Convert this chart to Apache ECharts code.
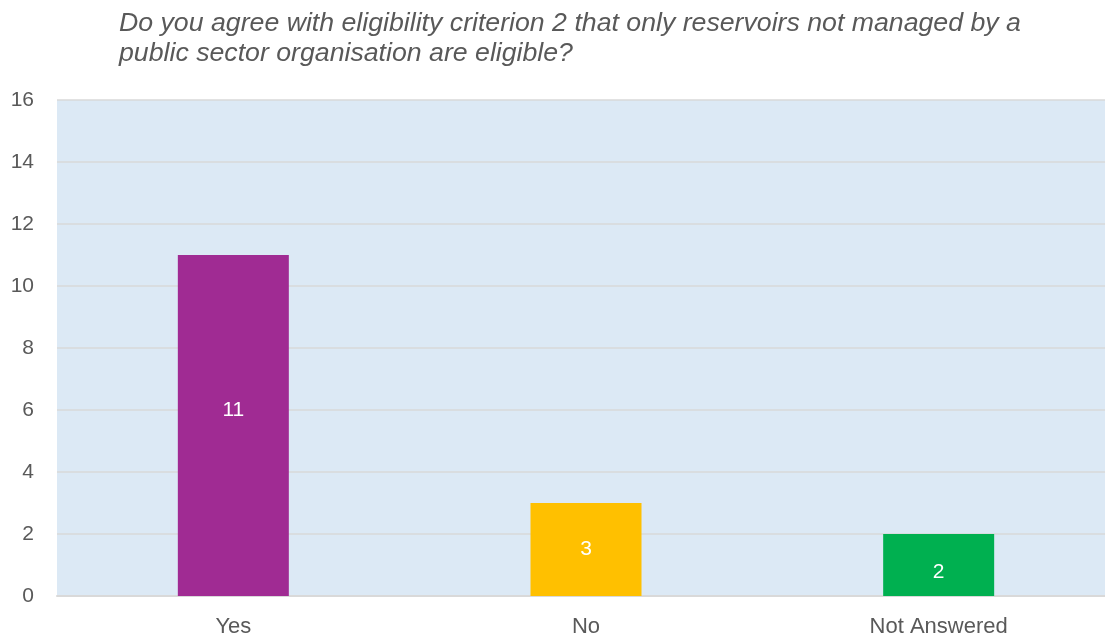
<!DOCTYPE html>
<html>
<head>
<meta charset="utf-8">
<script src="https://cdn.jsdelivr.net/npm/echarts@6/dist/echarts.min.js"></script>
<style>
  html, body { margin: 0; padding: 0; background: #ffffff; overflow: hidden; }
  #chart { width: 1115px; height: 639px; }
</style>
</head>
<body>
<div id="chart"></div>
<script>
// Survey responses to eligibility criterion 2
const titleText = 'Do you agree with eligibility criterion 2 that only reservoirs not managed by a\npublic sector organisation are eligible?';
const categories = ['Yes', 'No', 'Not Answered'];
const responses = [11, 3, 2];
const barColors = ['#A02B93', '#FFC000', '#00B050'];
const yTicks = { min: 0, max: 16, interval: 2 };

const chart = echarts.init(document.getElementById('chart'), null, { renderer: 'canvas' });

const labelOffsets = [[0, -15], [0, 0], [0, 7]];

chart.setOption({
  backgroundColor: '#ffffff',
  animation: false,
  title: {
    text: titleText,
    left: 114,
    top: 4,
    textStyle: {
      fontFamily: 'Liberation Sans, Arial, sans-serif',
      fontStyle: 'italic',
      fontWeight: 'normal',
      fontSize: 26.7,
      lineHeight: 30,
      color: '#595959'
    }
  },
  grid: {
    left: 57,
    top: 100,
    right: 0,
    bottom: 43,
    show: true,
    backgroundColor: '#DCE9F5',
    borderWidth: 0
  },
  xAxis: {
    type: 'category',
    data: categories,
    axisLine: { lineStyle: { color: '#D9D9D9', width: 2 } },
    axisTick: { show: false },
    axisLabel: {
      color: '#595959',
      fontFamily: 'Liberation Sans, Arial, sans-serif',
      fontSize: 22,
      margin: 20
    }
  },
  yAxis: {
    type: 'value',
    min: yTicks.min,
    max: yTicks.max,
    interval: yTicks.interval,
    axisLine: { show: false },
    axisTick: { show: false },
    splitLine: { lineStyle: { color: '#D9D9D9', width: 1.5 } },
    axisLabel: {
      color: '#595959',
      fontFamily: 'Liberation Sans, Arial, sans-serif',
      fontSize: 21,
      margin: 23
    }
  },
  series: [{
    type: 'bar',
    barWidth: 111,
    data: responses.map((v, i) => ({
      value: v,
      itemStyle: { color: barColors[i] },
      label: { offset: labelOffsets[i] }
    })),
    label: {
      show: true,
      position: 'inside',
      color: '#ffffff',
      fontFamily: 'Liberation Sans, Arial, sans-serif',
      fontSize: 21
    }
  }]
});
</script>
</body>
</html>
